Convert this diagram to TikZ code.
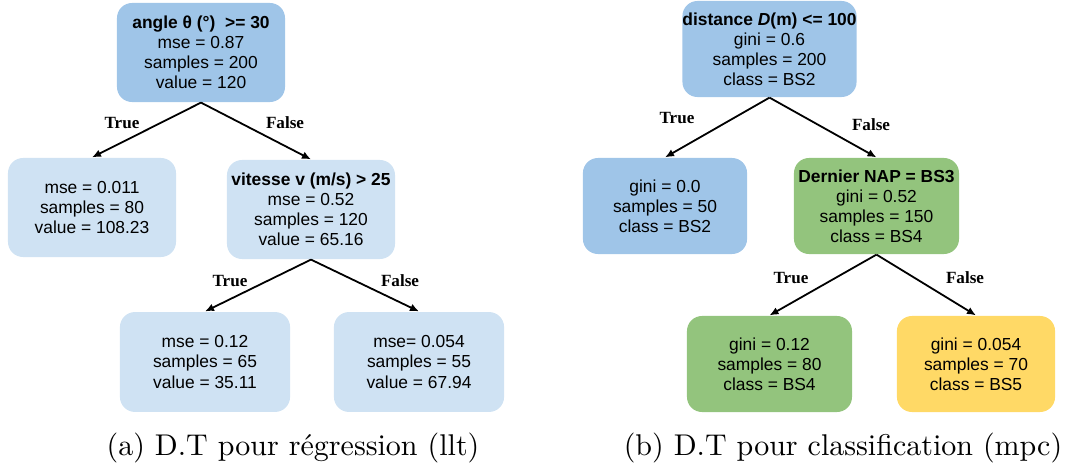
\documentclass[tikz,border=0pt]{standalone}
\usepackage{fontspec}
\usepackage{tikz}
\usetikzlibrary{arrows.meta}
\newfontfamily\boxfont{Liberation Sans}
\newfontfamily\edgefont{Liberation Serif}
\definecolor{rootblue}{HTML}{9FC5E8}
\definecolor{leafblue}{HTML}{CFE2F3}
\definecolor{nodegreen}{HTML}{93C47D}
\definecolor{nodeyellow}{HTML}{FFD966}

\begin{document}
\begin{tikzpicture}[x=0.3333pt, y=-0.3333pt,
  treebox/.style={rounded corners=5pt, align=center, inner sep=0pt,
    font=\boxfont\fontsize{5.8}{6.7}\selectfont},
  edgelabel/.style={font=\edgefont\bfseries\fontsize{5.7}{6.5}\selectfont, inner sep=0pt},
  branch/.style={-{Latex[length=3pt,width=2.6pt]}, line width=0.6pt}]
  \useasboundingbox (0,0) rectangle (1066,473);
  % (a) regression tree
  \node[treebox, fill=rootblue, minimum width=56pt, minimum height=33pt] (rootA) at (201,52.5)
    {\textbf{angle θ (°)\ \ >= 30}\\ mse = 0.87\\ samples = 200\\ value = 120};
  \node[treebox, fill=leafblue, minimum width=56pt, minimum height=33pt] (a1) at (92,207.5)
    {mse = 0.011\\ samples = 80\\ value = 108.23};
  \node[treebox, fill=leafblue, minimum width=56pt, minimum height=33pt] (a2) at (311,209.5)
    {\textbf{vitesse v (m/s) > 25}\\ mse = 0.52\\ samples = 120\\ value = 65.16};
  \node[treebox, fill=leafblue, minimum width=56.7pt, minimum height=33.3pt] (a3) at (205,362)
    {mse = 0.12\\ samples = 65\\ value = 35.11};
  \node[treebox, fill=leafblue, minimum width=56.7pt, minimum height=33.3pt] (a4) at (419,362)
    {mse= 0.054\\ samples = 55\\ value = 67.94};
  \draw[branch] (rootA.south) -- (a1.north); \draw[branch] (rootA.south) -- (a2.north);
  \draw[branch] (a2.south) -- (a3.north); \draw[branch] (a2.south) -- (a4.north);
  \node[edgelabel] (tA1) at (122,123) {True}; \node[edgelabel] (fA1) at (285,123) {False};
  \node[edgelabel] (tA2) at (230,281) {True}; \node[edgelabel] (fA2) at (400,281) {False};
  \node (capA) at (293,448) {(a) D.T pour régression (llt)};
  % (b) classification tree
  \node[treebox, fill=rootblue, minimum width=57.7pt, minimum height=32pt] (rootB) at (769.5,49)
    {\textbf{distance \textit{D}(m) <= 100}\\ gini = 0.6\\ samples = 200\\ class = BS2};
  \node[treebox, fill=rootblue, minimum width=54.7pt, minimum height=32pt] (b1) at (665,206)
    {gini = 0.0\\ samples = 50\\ class = BS2};
  \node[treebox, fill=nodegreen, minimum width=55pt, minimum height=32pt] (b2) at (876.5,206)
    {\textbf{Dernier NAP = BS3}\\ gini = 0.52\\ samples = 150\\ class = BS4};
  \node[treebox, fill=nodegreen, minimum width=55pt, minimum height=32pt] (b3) at (769.5,364)
    {gini = 0.12\\ samples = 80\\ class = BS4};
  \node[treebox, fill=nodeyellow, minimum width=52.7pt, minimum height=32pt] (b4) at (976,364)
    {gini = 0.054\\ samples = 70\\ class = BS5};
  \draw[branch] (rootB.south) -- (b1.north); \draw[branch] (rootB.south) -- (b2.north);
  \draw[branch] (b2.south) -- (b3.north); \draw[branch] (b2.south) -- (b4.north);
  \node[edgelabel] (tB1) at (677,118) {True}; \node[edgelabel] (fB1) at (871,125) {False};
  \node[edgelabel] (tB2) at (791,278) {True}; \node[edgelabel] (fB2) at (965,278) {False};
  \node (capB) at (843,448) {(b) D.T pour classification (mpc)};
\end{tikzpicture}
\end{document}
